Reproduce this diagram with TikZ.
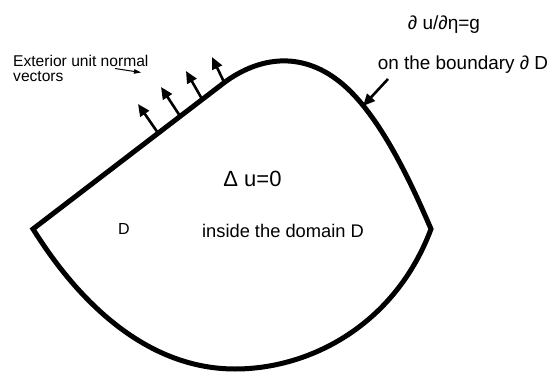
\documentclass[tikz,border=0pt]{standalone}
\usepackage{fontspec}
\setmainfont{Liberation Sans}
\usetikzlibrary{arrows.meta}
\begin{document}
\begin{tikzpicture}[x=1pt,y=-1pt,
	vora/.style={line width=5pt, line join=miter},
	normal/.style={line width=2.6pt, -{Triangle[length=12pt,width=10.5pt]}},
	fletxeta/.style={line width=1pt, -{Triangle[length=7pt,width=4.5pt]}},
	etiq/.style={inner sep=0pt}]
	
	\useasboundingbox (0,0) rectangle (549,372);
	
	% Vora del domini D
	\coordinate (L) at (33,229);
	\coordinate (R) at (431,229);
	\coordinate (B) at (235,369);
	\draw[vora] (L) -- (225,82)
		.. controls (258,58) and (300,50) .. (340,82)
		.. controls (380,114) and (412,185) .. (R)
		.. controls (395,325) and (310,369) .. (B)
		.. controls (160,369) and (90,320) .. cycle;
	
	% Vectors normals exteriors
	\foreach \i/\bx/\by/\tx/\ty in {1/158/133/138/104,2/180/116/161/87,3/202/99/186/71,4/224/82/212/57}
	{
		\coordinate (b\i) at (\bx,\by);
		\coordinate (t\i) at (\tx,\ty);
		\draw[normal] (b\i) -- (t\i);
	}
	
	% Fletxa cap a la vora
	\coordinate (pv) at (388,79);
	\coordinate (qv) at (363,106);
	\draw[normal] (pv) -- (qv);
	
	% Fletxeta sota el text
	\coordinate (pe) at (115,68.5);
	\coordinate (qe) at (141,72.5);
	\draw[fletxeta] (pe) -- (qe);
	
	% Textos
	\node[etiq, anchor=north west, align=left, font=\fontsize{15.6}{15.5}\selectfont] (ext) at (13,54.5) {Exterior unit normal\\vectors};
	\node[etiq, anchor=base, font=\fontsize{19}{22}\selectfont] (dudn) at (444,29) {∂ u/∂η=g};
	\node[etiq, anchor=base, font=\fontsize{18.9}{22}\selectfont] (bord) at (463,69) {on the boundary ∂ D};
	\node[etiq, anchor=base, font=\fontsize{22}{26}\selectfont] (lapl) at (252.5,186) {Δ u=0};
	\node[etiq, anchor=base, font=\fontsize{16}{19}\selectfont] (dom) at (124,234) {D};
	\node[etiq, anchor=base, font=\fontsize{18.3}{22}\selectfont] (dins) at (283,237.7) {inside the domain D};
	
\end{tikzpicture}
\end{document}
